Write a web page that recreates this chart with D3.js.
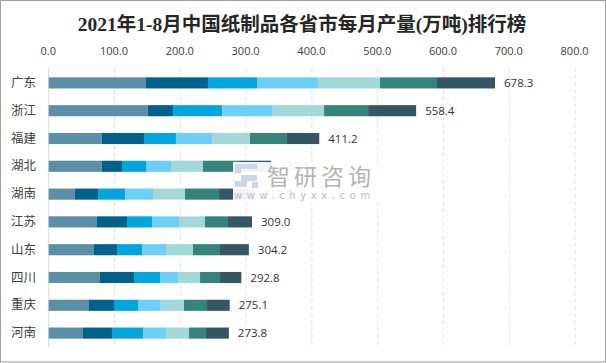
<!DOCTYPE html>
<html>
<head>
<meta charset="utf-8">
<script src="https://cdn.jsdelivr.net/npm/d3@7"></script>
<style>
  body { margin: 0; background: #fff; }
  svg { display: block; }
</style>
</head>
<body>
<svg id="chart" width="606" height="363"></svg>
<script>
// values, month groups 1-2月 .. 8月
const provinces = ["广东", "浙江", "福建", "湖北", "湖南", "江苏", "山东", "四川", "重庆", "河南"]
const months = ["1-2月", "3月", "4月", "5月", "6月", "7月", "8月"]
const m12 = [147.9, 150.5, 80.5, 80.5, 40.0, 73.4, 68.8, 78.0, 61.2, 52.1]
const m3  = [94.2, 38.5, 64.3, 30.9, 35.0, 45.6, 35.0, 51.7, 38.0, 44.1]
const m4  = [74.5, 74.5, 48.6, 36.5, 41.0, 38.0, 38.0, 39.5, 36.5, 47.1]
const m5  = [92.7, 76.0, 54.7, 38.0, 42.6, 41.0, 36.5, 27.4, 33.4, 35.0]
const m6  = [94.2, 79.0, 57.8, 48.6, 48.6, 39.5, 41.0, 33.4, 36.5, 35.0]
const m7  = [86.6, 66.9, 56.2, 53.6, 51.7, 35.0, 41.0, 30.4, 35.0, 25.8]
const m8  = [88.2, 73.0, 49.1, 49.7, 53.1, 36.5, 43.9, 32.4, 34.5, 34.7]
const ticks = [0, 100, 200, 300, 400, 500, 600, 700, 800]
const colors = ["#5b8fa8", "#00618a", "#02a6dd", "#6dcff6", "#a2d8d6", "#34847c", "#345763"]

const series = [m12, m3, m4, m5, m6, m7, m8]
const rows = provinces.map((p, i) => {
  const r = {name: p}
  months.forEach((m, j) => r[m] = series[j][i])
  return r
})

const svg = d3.select("#chart")

// outer frame
svg.append("rect")
    .attr("x", 0.5).attr("y", 0.5)
    .attr("width", 605).attr("height", 361.5)
    .attr("fill", "#fff").attr("stroke", "#a0a0a0")

svg.append("text")
    .attr("x", 302).attr("y", 31)
    .attr("text-anchor", "middle")
    .style("font-family", "'Liberation Serif', 'Noto Sans CJK SC', serif")
    .style("font-weight", "bold")
    .style("font-size", "19.5px")
    .style("fill", "#262626")
    .text("2021年1-8月中国纸制品各省市每月产量(万吨)排行榜")

var x = d3.scaleLinear()
    .domain([0, 800])
    .range([48.7, 575.1])

var y = d3.scaleBand()
    .domain(provinces)
    .range([69, 347])
    .paddingInner(0.6)
    .paddingOuter(0.3)

// dashed grid
svg.append("g")
  .selectAll("line")
  .data(ticks.slice(1))
  .join("line")
    .attr("x1", d => x(d)).attr("x2", d => x(d))
    .attr("y1", 68).attr("y2", 347)
    .attr("stroke", "#e4e4e4")
    .attr("stroke-dasharray", "4,3")

var xAxis = svg.append("g")
    .attr("transform", "translate(-1,58)")
    .call(d3.axisTop(x).tickValues(ticks).tickFormat(d3.format(".1f")).tickSize(0))
xAxis.select(".domain").remove()
xAxis.selectAll("text")
    .style("font-family", "'Open Sans', 'Noto Sans CJK SC', sans-serif")
    .style("font-size", "11px")
    .style("fill", "#404040")

svg.append("line")
    .attr("x1", x(0)).attr("x2", x(0))
    .attr("y1", 68).attr("y2", 347)
    .attr("stroke", "#d9d9d9")

var stack = d3.stack().keys(months)(rows)

svg.append("g")
  .selectAll("g")
  .data(stack)
  .join("g")
    .attr("fill", (d, i) => colors[i])
  .selectAll("rect")
  .data(d => d)
  .join("rect")
    .attr("x", d => x(d[0]))
    .attr("y", d => y(d.data.name))
    .attr("width", d => x(d[1]) - x(d[0]))
    .attr("height", y.bandwidth())

var yAxis = svg.append("g")
    .attr("transform", "translate(36,0)")
    .call(d3.axisLeft(y).tickSize(0).tickPadding(0))
yAxis.select(".domain").remove()
yAxis.selectAll("text")
    .style("font-family", "'Noto Sans CJK SC', sans-serif")
    .style("font-size", "12.5px")
    .style("fill", "#404040")

const totals = rows.map(r => d3.sum(months, m => r[m]))

svg.append("g")
  .selectAll("text")
  .data(provinces)
  .join("text")
    .attr("x", (d, i) => x(totals[i]) + 9)
    .attr("y", d => y(d) + y.bandwidth() / 2)
    .attr("dy", "0.35em")
    .style("font-family", "'Open Sans', 'Noto Sans CJK SC', sans-serif")
    .style("font-size", "11.5px")
    .style("fill", "#333")
    .text((d, i) => totals[i].toFixed(1))

// watermark box sits on top of the bars (hides part of 湖北/湖南 as in the source)
var wm = svg.append("g")
wm.append("rect")
    .attr("x", 233).attr("y", 162)
    .attr("width", 146).attr("height", 40)
    .attr("fill", "#fff").attr("opacity", 0.93)
wm.append("path")
    .attr("d", "M235,164 h22 v5 h-16 v4 h-6 z M241,175 h16 v6 h-10 v6 h-12 v-6 h6 z M252,182 h6 v6 h-6 z")
    .attr("fill", "#c9d7e8")
wm.append("text")
    .attr("x", 267).attr("y", 185)
    .style("font-family", "'Noto Sans CJK SC', sans-serif")
    .style("font-size", "23px")
    .style("letter-spacing", "4px")
    .style("fill", "#b5b5b5")
    .text("智研咨询")
wm.append("text")
    .attr("x", 234).attr("y", 199)
    .style("font-family", "'DejaVu Sans', sans-serif")
    .style("font-size", "10px")
    .style("letter-spacing", "4.6px")
    .style("fill", "#bdbdbd")
    .text("www.chyxx.com")
</script>
</body>
</html>
